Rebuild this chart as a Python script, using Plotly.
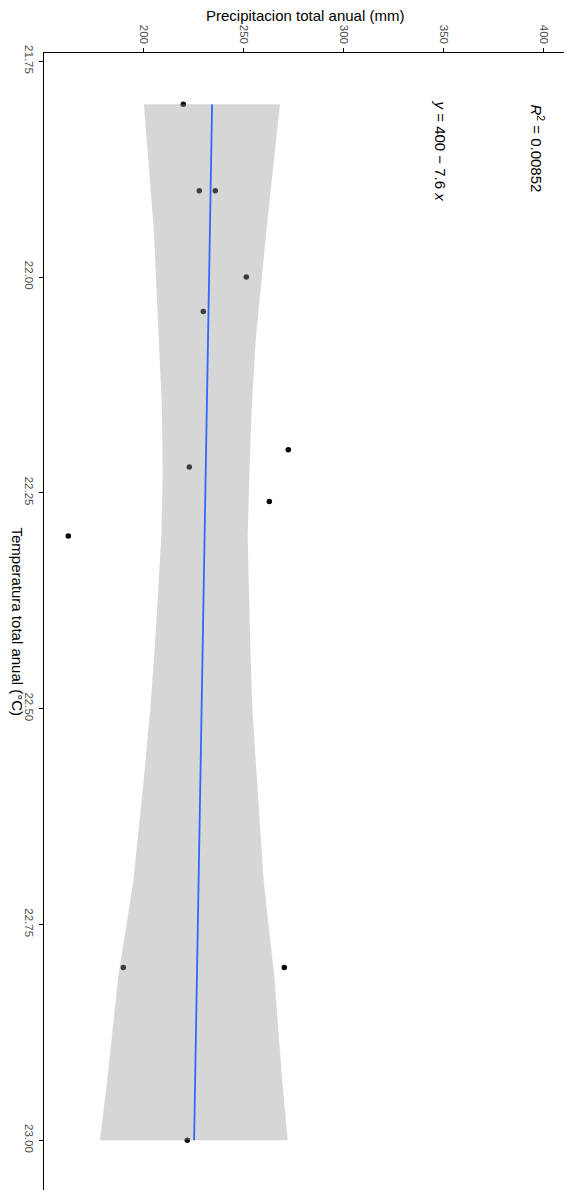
import plotly.graph_objects as go

# observaciones (temperatura, precipitacion)
temperatura = [21.80, 21.90, 21.90, 22.00, 22.04, 22.20, 22.22, 22.26, 22.30, 22.80, 22.80, 23.00]
precipitacion = [220.0, 228.0, 236.0, 251.5, 230.0, 272.5, 223.0, 263.0, 162.5, 190.0, 270.5, 222.0]

# recta ajustada (lm) y banda de confianza
ajuste_temp = [21.80, 23.00]
ajuste_prec = [234.4, 225.4]

banda_temp = [21.80, 21.95, 22.00, 22.07, 22.15, 22.23, 22.30, 22.42, 22.50, 22.58, 22.65, 22.70, 22.81, 22.93, 23.00]
banda_inf = [200.3, 205.4, 206.3, 207.8, 209.3, 209.7, 209.0, 206.0, 203.5, 200.3, 197.2, 195.0, 187.5, 182.0, 178.3]
banda_sup = [268.3, 261.4, 259.2, 256.3, 254.2, 253.0, 252.2, 253.4, 254.5, 256.7, 258.7, 260.2, 265.5, 269.4, 272.2]

ticks_temp = [21.75, 22.00, 22.25, 22.50, 22.75, 23.00]
ticks_prec = [200, 250, 300, 350, 400]

fuente = "Liberation Sans"

fig = go.Figure()

## puntos (debajo de la banda, como en ggplot)
fig.add_trace(go.Scatter(x=precipitacion, y=temperatura, mode='markers',
                         marker=dict(color='black', size=5.5), showlegend=False))

## banda de confianza
fig.add_trace(go.Scatter(x=banda_inf + banda_sup[::-1], y=banda_temp + banda_temp[::-1],
                         mode='lines', fill='toself', fillcolor='rgba(153,153,153,0.4)',
                         line=dict(width=0), showlegend=False))

## recta
fig.add_trace(go.Scatter(x=ajuste_prec, y=ajuste_temp, mode='lines',
                         line=dict(color='#3366FF', width=1.8), showlegend=False))

# la pagina tiene 8px de margen en body
fig.update_layout(
    width=572, height=1200,
    margin=dict(l=36, r=14, t=45, b=18),
    paper_bgcolor='white', plot_bgcolor='white',
    font=dict(family=fuente, size=12, color='black'),
    showlegend=False,
    xaxis=dict(side='top', range=[150.35, 411.35], tickvals=ticks_prec,
               tickangle=90, tickfont=dict(size=11.5, color='#4D4D4D'),
               showgrid=False, zeroline=False, showline=True, linecolor='black', linewidth=1,
               ticks='outside', ticklen=4, tickcolor='black', automargin=False),
    yaxis=dict(range=[23.0577, 21.7405], tickvals=ticks_temp, tickformat='.2f',
               tickangle=90, tickfont=dict(size=11.5, color='#4D4D4D'),
               showgrid=False, zeroline=False, showline=True, linecolor='black', linewidth=1,
               ticks='outside', ticklen=4, tickcolor='black', automargin=False),
)

## titulos de ejes
fig.add_annotation(text='Precipitacion total anual (mm)', xref='paper', yref='paper',
                   x=0.5, y=1, yanchor='middle', yshift=38, showarrow=False,
                   font=dict(size=15, color='black'))
fig.add_annotation(text='Temperatura total anual (°C)', xref='paper', yref='paper',
                   x=0, y=0.5, xanchor='center', yanchor='middle', xshift=-27,
                   textangle=90, showarrow=False,
                   font=dict(size=15, color='black'))

## ecuacion y R2
fig.add_annotation(text='<i>R</i><sup>2</sup> = 0.00852', x=397.35, y=21.851,
                   textangle=90, showarrow=False, font=dict(size=15, color='black'))
fig.add_annotation(text='<i>y</i> = 400 − 7.6 <i>x</i>', x=348.35, y=21.8535,
                   textangle=90, showarrow=False, font=dict(size=15, color='black'))

fig.write_html("out.html")
